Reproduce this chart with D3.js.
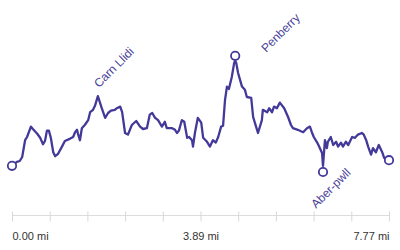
<!DOCTYPE html>
<meta charset="utf-8">
<head>
  <title>Elevation profile</title>
</head>
<style>
body {
  margin: 0;
  background: #fff;
  font-family: Arial, "Liberation Sans", sans-serif;
}
</style>
<body>
  <div id="content">
    <svg width="400" height="250"></svg>
  </div>
  <script src="https://cdnjs.cloudflare.com/ajax/libs/d3/7.8.5/d3.min.js"></script>
  <script>

// distance along the route (mi) and elevation (m)
var distances = [0.00, 0.10, 0.16, 0.21, 0.27, 0.31, 0.39, 0.43, 0.52, 0.58,
  0.64, 0.68, 0.72, 0.76, 0.80, 0.85, 0.89, 0.95, 1.03, 1.09,
  1.20, 1.26, 1.30, 1.34, 1.36, 1.40, 1.44, 1.50, 1.57, 1.61,
  1.67, 1.71, 1.77, 1.85, 1.92, 1.98, 2.04, 2.12, 2.16, 2.23,
  2.27, 2.33, 2.39, 2.47, 2.56, 2.64, 2.70, 2.78, 2.84, 2.89,
  2.95, 3.01, 3.09, 3.15, 3.19, 3.30, 3.36, 3.40, 3.44, 3.50,
  3.55, 3.61, 3.65, 3.71, 3.73, 3.77, 3.83, 3.90, 3.94, 4.02,
  4.08, 4.14, 4.20, 4.25, 4.31, 4.35, 4.39, 4.43, 4.47, 4.53,
  4.58, 4.60, 4.62, 4.66, 4.74, 4.80, 4.84, 4.93, 4.97, 5.03,
  5.07, 5.15, 5.17, 5.26, 5.30, 5.36, 5.40, 5.46, 5.52, 5.61,
  5.69, 5.75, 5.79, 5.89, 6.00, 6.08, 6.14, 6.18, 6.22, 6.29,
  6.33, 6.39, 6.41, 6.45, 6.49, 6.51, 6.57, 6.62, 6.68, 6.72,
  6.78, 6.82, 6.88, 6.93, 7.01, 7.07, 7.13, 7.21, 7.25, 7.30,
  7.34, 7.40, 7.44, 7.50, 7.56, 7.63, 7.67, 7.73, 7.77];

var elevations = [44, 49, 50, 55, 76, 80, 93, 90, 84, 79,
  71, 75, 88, 88, 79, 61, 56, 59, 68, 75,
  78, 80, 86, 89, 84, 76, 91, 95, 101, 111,
  114, 119, 131, 116, 104, 110, 113, 114, 116, 118,
  111, 85, 83, 95, 100, 93, 90, 91, 108, 110,
  104, 101, 93, 99, 91, 91, 89, 85, 88, 101,
  99, 79, 80, 76, 68, 85, 104, 98, 79, 74,
  68, 76, 73, 80, 93, 94, 126, 143, 140, 155,
  173, 175, 173, 160, 143, 139, 130, 129, 105, 93,
  85, 101, 114, 111, 116, 111, 118, 116, 123, 116,
  105, 95, 91, 89, 86, 91, 93, 86, 80, 73,
  68, 60, 44, 76, 66, 74, 80, 70, 74, 68,
  73, 68, 74, 70, 80, 79, 83, 85, 83, 76,
  68, 58, 66, 61, 70, 61, 54, 50, 51];

// named places along the route
var placeNames = ["Carn Llidi", "Penberry", "Aber-pwll"];
var placeDistances = [1.77, 4.60, 6.41];

var tickValues = [0, 0.777, 1.554, 2.331, 3.108, 3.885, 4.662, 5.439, 6.216, 6.993, 7.77];
var tickLabels = ["0.00 mi", "", "", "", "", "3.89 mi", "", "", "", "", "7.77 mi"];

var purple = '#433999';

var svg = d3.select('#content svg');

var x = d3.scaleLinear().domain([0, 7.77]).range([12, 389]);
var y = d3.scaleLinear().domain([0, 200]).range([201, 41]);

var points = distances.map(function(d, i) { return [d, elevations[i]]; });

//axis
var axis = svg.append('g')
  .attr('transform', 'translate(0,215.5)')
  .call(d3.axisBottom(x)
    .tickValues(tickValues)
    .tickSize(6)
    .tickFormat(function(d, i) { return tickLabels[i]; }));

axis.select('.domain').attr('stroke', '#dcdcdc').attr('d', 'M12,0H389');
axis.selectAll('.tick line').attr('stroke', '#d8d8d8').attr('y1', -4).attr('y2', 6);
axis.selectAll('.tick text')
  .attr('y', 24.5)
  .attr('dy', 0)
  .attr('fill', '#333')
  .style('font-family', 'Arial, "Liberation Sans", sans-serif')
  .style('font-size', '11px')
  .attr('text-anchor', function(d, i) {
    return i === 0 ? 'start' : (i === tickValues.length - 1 ? 'end' : 'middle');
  });

//profile line
var line = d3.line()
  .x(function(d) { return x(d[0]); })
  .y(function(d) { return y(d[1]); });

svg.append('path')
  .datum(points)
  .attr('fill', 'none')
  .attr('stroke', purple)
  .attr('stroke-width', 2.3)
  .attr('stroke-linejoin', 'round')
  .attr('d', line);

//markers: start, end, highest point, lowest dip
var r = 4.2;
var markers = [
  {d: distances[0], e: elevations[0], off: 0},
  {d: distances[distances.length - 1], e: elevations[elevations.length - 1], off: 0},
  {d: placeDistances[1], e: elevations[distances.indexOf(placeDistances[1])], off: -r - 1},
  {d: placeDistances[2], e: elevations[distances.indexOf(placeDistances[2])], off: r + 2}
];

svg.selectAll('circle.marker')
  .data(markers)
  .enter().append('circle')
  .attr('class', 'marker')
  .attr('cx', function(m) { return x(m.d); })
  .attr('cy', function(m) { return y(m.e) + m.off; })
  .attr('r', r)
  .attr('fill', '#fff')
  .attr('stroke', purple)
  .attr('stroke-width', 1.8);

//place labels, rotated
var labelOffsets = [[1, -8], [31, -8], [-7, 43]];

svg.selectAll('text.place')
  .data(placeNames)
  .enter().append('text')
  .attr('class', 'place')
  .attr('transform', function(name, i) {
    var d = placeDistances[i];
    var px = x(d) + labelOffsets[i][0];
    var py = y(elevations[distances.indexOf(d)]) + labelOffsets[i][1];
    return 'translate(' + px + ',' + py + ') rotate(-45)';
  })
  .attr('fill', '#4a4199')
  .style('font-size', '12px')
  .text(function(name) { return name; });

</script>
</body>
</html>
